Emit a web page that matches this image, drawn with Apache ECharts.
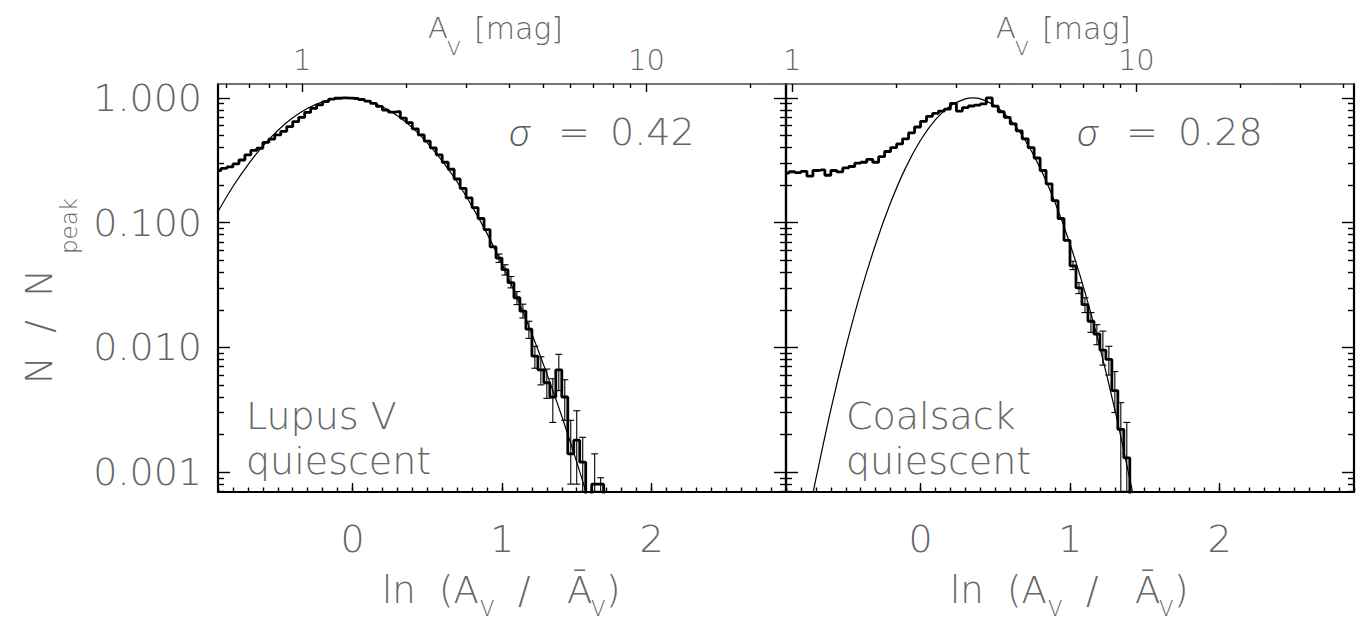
<!DOCTYPE html>
<html>
<head>
<meta charset="utf-8">
<script src="https://cdn.jsdelivr.net/npm/echarts@6/dist/echarts.min.js"></script>
<style>
  html, body { margin: 0; padding: 0; background: #fff; }
  #chart { width: 1359px; height: 621px; }
</style>
</head>
<body>
<div id="chart"></div>
<script>
// ---------------------------------------------------------------------------
// Column-density PDFs of two quiescent clouds, N / N_peak versus ln(A_V / mean A_V)
// ---------------------------------------------------------------------------

// Lupus V histogram: bin centres in ln(A_V / mean A_V) and normalised counts
const lupusX = [-0.90,-0.86,-0.82,-0.78,-0.74,-0.70,-0.66,-0.62,-0.58,-0.54,-0.50,-0.46,-0.42,-0.38,-0.34,-0.30,
  -0.26,-0.22,-0.18,-0.14,-0.10,-0.06,-0.02,0.02,0.06,0.10,0.14,0.18,0.22,0.26,0.30,0.34,0.38,0.42,0.46,0.50,
  0.54,0.58,0.62,0.66,0.70,0.74,0.78,0.82,0.86,0.90,0.94,0.98,1.02,1.06,1.10,1.14,1.18,1.22,1.26,1.30,1.34,
  1.38,1.42,1.46,1.50,1.54,1.58,1.62,1.66,1.70];
const lupusN = [0.262,0.272,0.280,0.296,0.318,0.350,0.380,0.395,0.440,0.468,0.505,0.540,0.590,0.645,0.700,0.765,
  0.825,0.880,0.935,0.980,0.995,1.000,0.998,0.990,0.972,0.945,0.905,0.855,0.800,0.770,0.775,0.690,0.635,0.565,0.505,0.450,
  0.398,0.350,0.305,0.268,0.224,0.188,0.158,0.132,0.108,0.088,0.064,0.052,0.042,0.033,0.025,0.0195,0.0140,0.0085,0.0066,0.0052,0.0040,
  0.0066,0.0040,0.0014,0.0018,0.0012,0,0.0008,0.0008,0];
// Lupus V error bars: [ln(A_V/mean), low, high]
const lupusErr = [[0.98,0.048,0.056],[1.02,0.038,0.046],[1.06,0.030,0.037],[1.10,0.022,0.028],[1.14,0.0172,0.0222],
  [1.18,0.0118,0.0162],[1.22,0.0068,0.0102],[1.26,0.0050,0.0084],[1.30,0.0039,0.0067],[1.34,0.0025,0.0056],
  [1.38,0.0045,0.0088],[1.42,0.0026,0.0055],[1.46,0.0008,0.0026],[1.50,0.0008,0.0031],[1.54,0.0007,0.0019],
  [1.62,0.0007,0.0014],[1.66,0.0007,0.0009]];
// Lupus V log-normal fit (sigma = 0.42)
const lupusFitX = [-0.9,-0.8,-0.7,-0.6,-0.5,-0.4,-0.3,-0.2,-0.1,0.0,0.1,0.2,0.3,0.4,0.5,0.6,0.7,0.8,0.9,1.0,1.1,1.2,1.3,1.4,1.5,1.6];
const lupusFitN = [0.123,0.195,0.291,0.411,0.549,0.693,0.826,0.930,0.990,0.995,0.946,0.849,0.720,0.578,0.437,0.313,
  0.212,0.135,0.0817,0.0466,0.0251,0.0128,0.00616,0.0028,0.0012,0.00049];

// Coalsack histogram
const coalsackX = [-0.90,-0.86,-0.82,-0.78,-0.74,-0.70,-0.66,-0.62,-0.58,-0.54,-0.50,-0.46,-0.42,-0.38,-0.34,-0.30,
  -0.26,-0.22,-0.18,-0.14,-0.10,-0.06,-0.02,0.02,0.06,0.10,0.14,0.18,0.22,0.26,0.30,0.34,0.38,0.42,0.46,0.50,
  0.54,0.58,0.62,0.66,0.70,0.74,0.78,0.82,0.86,0.90,0.94,0.98,1.02,1.06,1.10,1.14,1.18,1.22,1.26,1.30,1.34,1.38,1.42];
const coalsackN = [0.250,0.256,0.252,0.258,0.236,0.262,0.265,0.240,0.262,0.255,0.275,0.282,0.300,0.305,0.322,0.305,
  0.338,0.372,0.400,0.428,0.470,0.525,0.585,0.650,0.712,0.752,0.785,0.815,0.905,0.785,0.838,0.862,0.875,0.895,1.000,0.860,
  0.775,0.700,0.620,0.545,0.470,0.400,0.330,0.262,0.205,0.150,0.108,0.072,0.045,0.030,0.022,0.0162,0.0128,0.0095,0.0080,
  0.0045,0.0022,0.0013,0];
const coalsackErr = [[1.02,0.042,0.049],[1.06,0.027,0.033],[1.10,0.019,0.025],[1.14,0.0132,0.0190],[1.18,0.0105,0.0152],
  [1.22,0.0072,0.0135],[1.26,0.0060,0.0102],[1.30,0.0030,0.0064],[1.34,0.0007,0.0036],[1.38,0.0007,0.0025]];
// Coalsack log-normal fit (sigma = 0.28)
const coalsackFitX = [-0.72,-0.7,-0.6,-0.5,-0.4,-0.3,-0.2,-0.1,0.0,0.1,0.2,0.3,0.35,0.4,0.5,0.6,0.7,0.8,0.9,1.0,1.1,1.2,1.3,1.4,1.43];
const coalsackFitN = [0.00067,0.00088,0.00316,0.00997,0.0277,0.0675,0.145,0.275,0.458,0.671,0.866,0.984,1.0,0.984,
  0.866,0.671,0.458,0.275,0.145,0.0675,0.0277,0.00997,0.00316,0.00088,0.00059];

// axes and labels
const yMajorValues = [0.001, 0.01, 0.1, 1];
const yMajorLabels = ['0.001', '0.010', '0.100', '1.000'];
const lnMajorValues = [0, 1, 2];
const avLabelValues = [1, 10];
const avMinorValues = [0.6, 0.7, 0.8, 0.9, 2, 3, 4, 5, 6, 7, 8, 9, 20, 30, 40, 50, 60, 70, 80, 90];
const avMean = [1.40, 2.36];                 // mean A_V of each cloud [mag]
const sigmaLabels = ['0.42', '0.28'];
const cloudLabels = [['Lupus V', 'quiescent'], ['Coalsack', 'quiescent']];

const X_MIN = -0.9, X_MAX = 2.9;
const LOG_MIN = -3.16, LOG_MAX = 0.112;      // log10(N / N_peak) range
const FLOOR = LOG_MIN - 0.3;                 // empty bins drop below the frame

const FONT = "'DejaVu Sans', sans-serif";
const TEXT_WEIGHT = 200;
const TEXT_COLOR = '#666';

const panels = [
  { left: 218, x: lupusX, n: lupusN, err: lupusErr, fx: lupusFitX, fn: lupusFitN },
  { left: 786, x: coalsackX, n: coalsackN, err: coalsackErr, fx: coalsackFitX, fn: coalsackFitN }
];
const PANEL_W = 568, PANEL_TOP = 84, PANEL_H = 408;

// tick positions
const lnMinor = [];
for (let i = -9; i <= 29; i++) lnMinor.push(i / 10);
const yMinor = [];
for (let d = -4; d <= 0; d++) for (let k = 2; k <= 9; k++) {
  const v = Math.log10(k) + d;
  if (v >= LOG_MIN && v <= LOG_MAX) yMinor.push(v);
}
const yMajor = yMajorValues.map(v => Math.log10(v));

function makeAxis(dim, p, o) {
  const ax = {
    type: 'value', gridIndex: p, position: o.position,
    min: dim === 'x' ? X_MIN : LOG_MIN, max: dim === 'x' ? X_MAX : LOG_MAX,
    splitLine: { show: false },
    axisPointer: { show: false },
    axisLine: { show: o.line !== false, onZero: false,
      lineStyle: { color: o.lineColor || '#000', width: o.lineWidth || 2.2 } },
    axisTick: { show: true, inside: true, customValues: o.ticks, length: o.len,
      lineStyle: { color: '#000', width: 1.4 } },
    axisLabel: { show: false }
  };
  if (o.labels) {
    ax.axisLabel = { show: true, customValues: o.labels, formatter: o.formatter, margin: o.margin,
      fontSize: o.fontSize, color: TEXT_COLOR, fontFamily: FONT, fontWeight: TEXT_WEIGHT,
      padding: o.padding || 0 };
  }
  return ax;
}

const grids = [], xAxes = [], yAxes = [], series = [];
panels.forEach((pn, p) => {
  grids.push({ left: pn.left, top: PANEL_TOP, width: PANEL_W, height: PANEL_H, outerBoundsMode: 'none' });

  const avToLn = a => Math.log(a / avMean[p]);
  const inX = v => v >= X_MIN && v <= X_MAX;
  // x axes: bottom major, bottom minor, top major (A_V), top minor
  xAxes.push(makeAxis('x', p, { position: 'bottom', ticks: lnMajorValues, len: 9,
    labels: lnMajorValues, formatter: v => String(Math.round(v)), margin: 28, fontSize: 38 }));
  xAxes.push(makeAxis('x', p, { position: 'bottom', ticks: lnMinor, len: 4.5, line: false }));
  xAxes.push(makeAxis('x', p, { position: 'top', ticks: avLabelValues.map(avToLn).filter(inX), len: 8,
    labels: avLabelValues.map(avToLn).filter(inX), formatter: v => String(Math.round(avMean[p] * Math.exp(v))),
    margin: 10, fontSize: 29, lineColor: '#444', lineWidth: 1.6 }));
  xAxes.push(makeAxis('x', p, { position: 'top', ticks: avMinorValues.map(avToLn).filter(inX), len: 4, line: false }));
  // y axes: left major, left minor, right major, right minor
  yAxes.push(makeAxis('y', p, { position: 'left', ticks: yMajor, len: 12,
    labels: p === 0 ? yMajor : null, formatter: v => yMajorLabels[Math.round(v) + 3],
    margin: 16, fontSize: 38, padding: [10, 0, 0, 0] }));
  yAxes.push(makeAxis('y', p, { position: 'left', ticks: yMinor, len: 6, line: false }));
  yAxes.push(makeAxis('y', p, { position: 'right', ticks: yMajor, len: 12 }));
  yAxes.push(makeAxis('y', p, { position: 'right', ticks: yMinor, len: 6, line: false }));

  const xi = p * 4, yi = p * 4;
  series.push({
    type: 'line', xAxisIndex: xi, yAxisIndex: yi, smooth: 0.35, symbol: 'none', clip: true, silent: true,
    lineStyle: { color: '#000', width: 1.2 },
    data: pn.fx.map((x, i) => [x, Math.log10(pn.fn[i])])
  });
  series.push({
    type: 'custom', xAxisIndex: xi, yAxisIndex: yi, clip: true, silent: true,
    data: pn.err.map(e => [e[0], Math.log10(e[1]), Math.log10(e[2])]),
    encode: { x: 0, y: [1, 2] },
    renderItem(params, api) {
      const lo = api.coord([api.value(0), api.value(1)]);
      const hi = api.coord([api.value(0), api.value(2)]);
      const w = 3.5, st = { stroke: '#000', lineWidth: 1.1 };
      return { type: 'group', children: [
        { type: 'line', shape: { x1: lo[0], y1: lo[1], x2: hi[0], y2: hi[1] }, style: st },
        { type: 'line', shape: { x1: lo[0] - w, y1: lo[1], x2: lo[0] + w, y2: lo[1] }, style: st },
        { type: 'line', shape: { x1: hi[0] - w, y1: hi[1], x2: hi[0] + w, y2: hi[1] }, style: st }
      ] };
    }
  });
  series.push({
    type: 'line', xAxisIndex: xi, yAxisIndex: yi, step: 'middle', symbol: 'none', clip: true, silent: true,
    lineStyle: { color: '#000', width: 2.8 },
    data: pn.x.map((x, i) => [x, pn.n[i] > 0 ? Math.log10(pn.n[i]) : FLOOR])
  });
});

// titles and annotations
const graphics = [];
function addText(x, y, text, size, style, el) {
  graphics.push(Object.assign({ type: 'text', x, y, silent: true,
    style: Object.assign({ text, fontSize: size, fontFamily: FONT, fontWeight: TEXT_WEIGHT, fill: TEXT_COLOR,
      align: 'left', verticalAlign: 'middle' }, style || {}) }, el || {}));
}
panels.forEach((pn, p) => {
  const x0 = pn.left, cx = x0 + PANEL_W / 2;
  // top axis title: A_V [mag]
  addText(cx - 74, 28, 'A', 29);
  addText(cx - 55, 48, 'V', 20);
  addText(cx - 28, 28, '[mag]', 30);
  // bottom axis title: ln (A_V / mean A_V)
  addText(cx - 120, 590, 'ln', 37);
  addText(cx - 63, 590, '(A', 37);
  addText(cx - 22, 609, 'V', 21);
  addText(cx + 16, 590, '/', 37);
  addText(cx + 65, 590, '\u0100', 37);
  addText(cx + 89, 609, 'V', 21);
  addText(cx + 104, 590, ')', 37);
  // width of the fitted log-normal
  addText(x0 + 291, 131, '\u03c3', 40, { fontFamily: "Lato, 'Open Sans', sans-serif", fontStyle: 'italic', fontWeight: 300, fill: '#5a5a5a' });
  addText(x0 + 340, 132, '=', 38);
  addText(x0 + 392, 132, sigmaLabels[p], 38);
  // cloud name
  const lx = x0 + (p === 0 ? 28 : 60);
  addText(lx, 416, cloudLabels[p][0], 38);
  addText(lx, 461, cloudLabels[p][1], 38);
});
// y axis title: N / N_peak (reads upward)
addText(39, 384, 'N\u00a0\u00a0/\u00a0\u00a0N', 37, null, { rotation: Math.PI / 2 });
addText(69, 254, 'peak', 23, null, { rotation: Math.PI / 2 });

const chart = echarts.init(document.getElementById('chart'), null, { renderer: 'svg', width: 1359, height: 621 });
chart.setOption({
  animation: false,
  backgroundColor: '#fff',
  grid: grids,
  xAxis: xAxes,
  yAxis: yAxes,
  series: series,
  graphic: { elements: graphics }
});
</script>
</body>
</html>
